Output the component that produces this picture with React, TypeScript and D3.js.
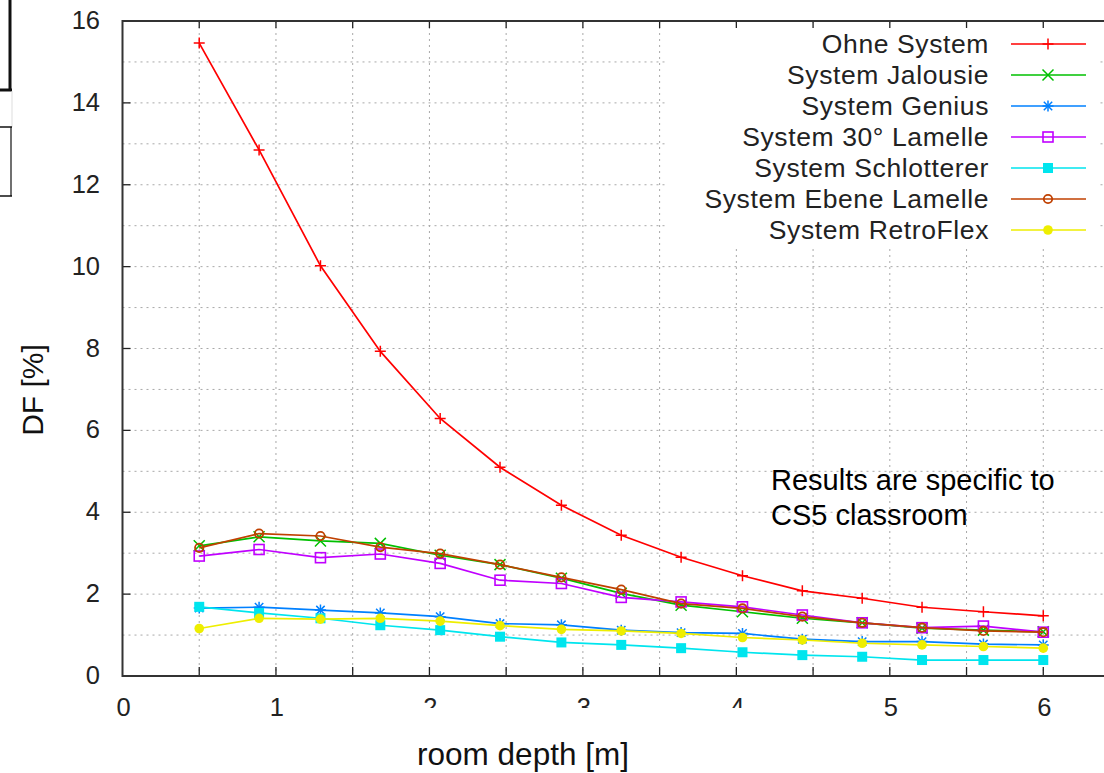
import React, { useEffect, useRef } from 'react';
import * as d3 from 'd3';

// room depth positions of the measurement points [m]
const depth = [0.5, 0.89, 1.29, 1.68, 2.07, 2.46, 2.86, 3.25, 3.64, 4.04, 4.43, 4.82, 5.21, 5.61, 6.0];

// daylight factor DF [%] per system
const ohneSystem = [15.46, 12.85, 10.02, 7.93, 6.29, 5.1, 4.17, 3.44, 2.9, 2.45, 2.08, 1.9, 1.68, 1.57, 1.47];
const jalousie = [3.18, 3.4, 3.3, 3.24, 2.95, 2.72, 2.39, 2.02, 1.73, 1.57, 1.41, 1.3, 1.17, 1.12, 1.08];
const genius = [1.66, 1.68, 1.61, 1.54, 1.45, 1.28, 1.25, 1.12, 1.06, 1.04, 0.9, 0.84, 0.84, 0.78, 0.76];
const lamelle30 = [2.93, 3.09, 2.89, 2.98, 2.75, 2.34, 2.26, 1.92, 1.81, 1.69, 1.49, 1.3, 1.18, 1.22, 1.07];
const schlotterer = [1.69, 1.54, 1.41, 1.24, 1.12, 0.96, 0.82, 0.76, 0.68, 0.58, 0.51, 0.47, 0.39, 0.39, 0.39];
const ebeneLamelle = [3.13, 3.48, 3.42, 3.15, 2.99, 2.72, 2.41, 2.11, 1.77, 1.65, 1.45, 1.3, 1.18, 1.1, 1.07];
const retroFlex = [1.16, 1.41, 1.39, 1.41, 1.34, 1.23, 1.14, 1.1, 1.04, 0.94, 0.88, 0.8, 0.76, 0.72, 0.68];

const seriesNames = [
  'Ohne System',
  'System Jalousie',
  'System Genius',
  'System 30° Lamelle',
  'System Schlotterer',
  'System Ebene Lamelle',
  'System RetroFlex',
];
const seriesValues = [ohneSystem, jalousie, genius, lamelle30, schlotterer, ebeneLamelle, retroFlex];
const seriesColors = ['#ff0000', '#00c000', '#0080ff', '#c000ff', '#00e5ee', '#c04000', '#eeee00'];
const seriesMarkers = ['plus', 'cross', 'star', 'openSquare', 'square', 'openCircle', 'circle'];

const yTicks = [0, 2, 4, 6, 8, 10, 12, 14, 16];
const xTicks = [0, 1, 2, 3, 4, 5, 6];

const FONT = '"Liberation Sans", Arial, sans-serif';

const drawMarker = (g, type, x, y, color) => {
  const s = 5.5;
  if (type === 'plus' || type === 'star') {
    g.append('path').attr('d', `M${x - s},${y}H${x + s}M${x},${y - s}V${y + s}`)
      .attr('stroke', color).attr('stroke-width', 1.5).attr('fill', 'none');
  }
  if (type === 'cross' || type === 'star') {
    const c = type === 'star' ? 4.2 : 5.5;
    g.append('path').attr('d', `M${x - c},${y - c}L${x + c},${y + c}M${x - c},${y + c}L${x + c},${y - c}`)
      .attr('stroke', color).attr('stroke-width', 1.5).attr('fill', 'none');
  }
  if (type === 'openSquare') {
    g.append('rect').attr('x', x - 5).attr('y', y - 5).attr('width', 10).attr('height', 10)
      .attr('fill', 'none').attr('stroke', color).attr('stroke-width', 1.6);
  }
  if (type === 'square') {
    g.append('rect').attr('x', x - 5).attr('y', y - 5).attr('width', 10).attr('height', 10)
      .attr('fill', color);
  }
  if (type === 'openCircle') {
    g.append('circle').attr('cx', x).attr('cy', y).attr('r', 4.2)
      .attr('fill', 'none').attr('stroke', color).attr('stroke-width', 1.8);
  }
  if (type === 'circle') {
    g.append('circle').attr('cx', x).attr('cy', y).attr('r', 4.8).attr('fill', color);
  }
};

const App = () => {
  const svgRef = useRef(null);

  useEffect(() => {
    const width = 1104;
    const height = 773;
    const x = d3.scaleLinear().domain([0, 6.5]).range([122.5, 1120]);
    const y = d3.scaleLinear().domain([0, 16]).range([676, 21]);

    const svg = d3.select(svgRef.current);
    svg.selectAll('*').remove();
    svg.attr('width', width).attr('height', height);

    svg.append('rect').attr('width', width).attr('height', height).attr('fill', '#fff');

    // fragments of a table at the left edge
    const frag = svg.append('g').attr('stroke', '#111');
    frag.append('line').attr('x1', 10).attr('y1', 0).attr('x2', 10).attr('y2', 91).attr('stroke-width', 3);
    frag.append('line').attr('x1', 0).attr('y1', 90).attr('x2', 12).attr('y2', 90).attr('stroke-width', 3);
    frag.append('line').attr('x1', 12).attr('y1', 91).attr('x2', 12).attr('y2', 127).attr('stroke', '#ddd');
    frag.append('line').attr('x1', 0).attr('y1', 127).attr('x2', 12).attr('y2', 127).attr('stroke-width', 1.5);
    frag.append('line').attr('x1', 11).attr('y1', 127).attr('x2', 11).attr('y2', 196).attr('stroke-width', 1.2);
    frag.append('line').attr('x1', 0).attr('y1', 196).attr('x2', 12).attr('y2', 196).attr('stroke-width', 1.5);

    // grid
    const grid = svg.append('g').attr('stroke', '#a8a8a8').attr('stroke-dasharray', '2,4').attr('stroke-width', 1);
    d3.range(1, 16).forEach(v => {
      grid.append('line').attr('x1', x(0)).attr('x2', width).attr('y1', y(v)).attr('y2', y(v));
    });
    d3.range(0.5, 6.5, 0.5).forEach(v => {
      grid.append('line').attr('x1', x(v)).attr('x2', x(v)).attr('y1', y(16)).attr('y2', y(0));
    });

    // key box (opaque)
    svg.append('rect').attr('x', 668).attr('y', 23).attr('width', 430).attr('height', 223).attr('fill', '#fff');

    // ticks
    const ticks = svg.append('g').attr('stroke', '#222').attr('stroke-width', 1.3);
    yTicks.forEach(v => {
      ticks.append('line').attr('x1', x(0)).attr('x2', x(0) + 8).attr('y1', y(v)).attr('y2', y(v));
    });
    d3.range(0.5, 6.5, 0.5).forEach(v => {
      ticks.append('line').attr('x1', x(v)).attr('x2', x(v)).attr('y1', y(0)).attr('y2', y(0) - 9);
      ticks.append('line').attr('x1', x(v)).attr('x2', x(v)).attr('y1', y(16)).attr('y2', y(16) + 7);
    });

    // frame
    const frame = svg.append('g').attr('stroke', '#333').attr('stroke-width', 2).attr('fill', 'none');
    frame.append('path').attr('d', `M${width},${y(16)}H${x(0)}V${y(0)}H${width}`);

    // tick labels
    yTicks.forEach(v => {
      svg.append('text').attr('x', 100).attr('y', y(v) + 8).attr('text-anchor', 'end')
        .attr('font-family', FONT).attr('font-size', 25.5).attr('fill', '#222').text(v);
    });
    xTicks.forEach(v => {
      svg.append('text').attr('x', x(v) + 1).attr('y', 716).attr('text-anchor', 'middle')
        .attr('font-family', FONT).attr('font-size', 25.5).attr('fill', '#222').text(v);
    });
    // the lower half of a few tick labels is hidden in the original
    svg.append('rect').attr('x', 405).attr('y', 708).attr('width', 355).attr('height', 28).attr('fill', '#fff');

    // axis titles
    svg.append('text').attr('x', 523).attr('y', 765).attr('text-anchor', 'middle')
      .attr('font-family', FONT).attr('font-size', 31.5).attr('fill', '#111').text('room depth [m]');
    svg.append('text').attr('transform', 'translate(43,390) rotate(-90)').attr('text-anchor', 'middle')
      .attr('font-family', FONT).attr('font-size', 30).attr('fill', '#111').text('DF [%]');

    // series
    const line = d3.line().x((d, i) => x(depth[i])).y(d => y(d));
    seriesValues.forEach((vals, k) => {
      const g = svg.append('g');
      g.append('path').datum(vals).attr('d', line).attr('fill', 'none')
        .attr('stroke', seriesColors[k]).attr('stroke-width', 1.7);
      vals.forEach((v, i) => drawMarker(g, seriesMarkers[k], x(depth[i]), y(v), seriesColors[k]));
    });

    // key
    seriesNames.forEach((name, k) => {
      const cy = 44 + k * 31;
      svg.append('text').attr('x', 989).attr('y', cy + 9).attr('text-anchor', 'end')
        .attr('font-family', FONT).attr('font-size', 26.5).attr('letter-spacing', 0.6)
        .attr('fill', '#222').text(name);
      const g = svg.append('g');
      g.append('line').attr('x1', 1011).attr('x2', 1086).attr('y1', cy).attr('y2', cy)
        .attr('stroke', seriesColors[k]).attr('stroke-width', 1.7);
      drawMarker(g, seriesMarkers[k], 1048, cy, seriesColors[k]);
    });

    // annotation
    const note = svg.append('text').attr('font-family', FONT).attr('font-size', 29).attr('fill', '#000');
    note.append('tspan').attr('x', 771).attr('y', 490).text('Results are specific to');
    note.append('tspan').attr('x', 771).attr('y', 525).text('CS5 classroom');
  }, []);

  return (
    <svg ref={svgRef} style={{ position: 'absolute', left: 0, top: 0, display: 'block' }}></svg>
  );
};

export default App;
